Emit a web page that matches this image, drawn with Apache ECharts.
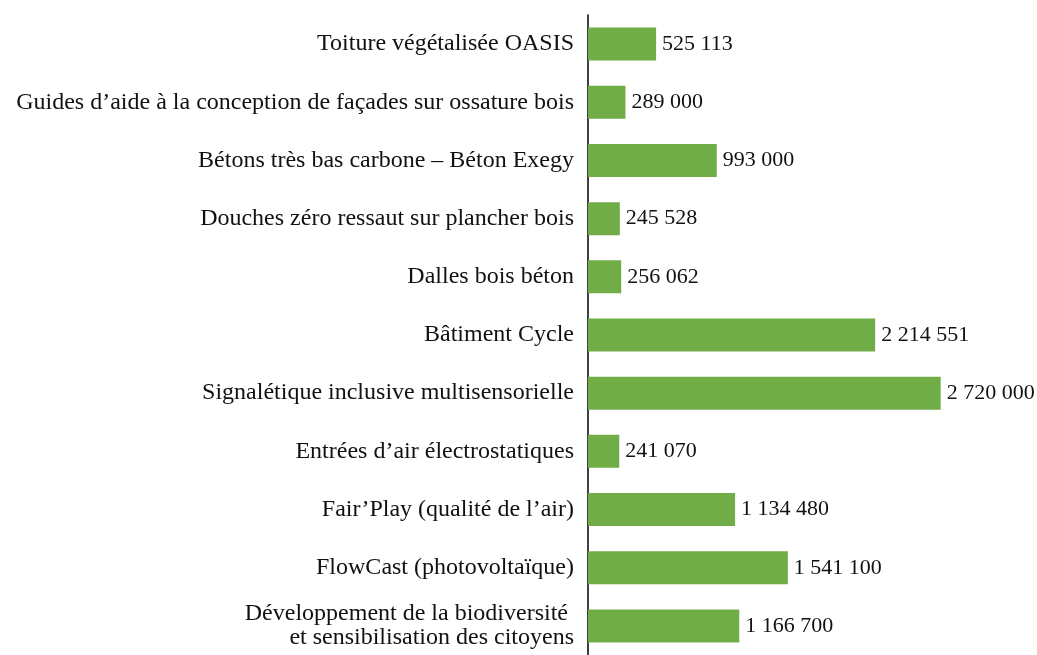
<!DOCTYPE html>
<html>
<head>
<meta charset="utf-8">
<script src="https://cdn.jsdelivr.net/npm/echarts@6/dist/echarts.min.js"></script>
<style>
  html, body { margin: 0; padding: 0; background: #fff; }
  #chart { width: 1037px; height: 655px; }
</style>
</head>
<body>
<div id="chart"></div>
<script>
const categories = [
  'Toiture végétalisée OASIS',
  'Guides d’aide à la conception de façades sur ossature bois',
  'Bétons très bas carbone – Béton Exegy',
  'Douches zéro ressaut sur plancher bois',
  'Dalles bois béton',
  'Bâtiment Cycle',
  'Signalétique inclusive multisensorielle',
  'Entrées d’air électrostatiques',
  'Fair’Play (qualité de l’air)',
  'FlowCast (photovoltaïque)',
  'Développement de la biodiversité \net sensibilisation des citoyens'
]
const amounts = [525113, 289000, 993000, 245528, 256062, 2214551, 2720000, 241070, 1134480, 1541100, 1166700]

const fontFamily = '"Liberation Serif", serif'

function fmt(v) {
  return String(v).replace(/\B(?=(\d{3})+(?!\d))/g, ' ')
}

const chart = echarts.init(document.getElementById('chart'))
chart.setOption({
  animation: false,
  grid: {
    left: 588,
    top: 15,
    width: 389,
    height: 647
  },
  xAxis: {
    type: 'value',
    min: 0,
    max: 3000000,
    show: false
  },
  yAxis: {
    type: 'category',
    inverse: true,
    data: categories,
    axisLine: { lineStyle: { color: '#000', width: 1.5 } },
    axisTick: { show: false },
    axisLabel: {
      margin: 14,
      color: '#111',
      fontFamily: fontFamily,
      fontSize: 24,
      lineHeight: 24,
      align: 'right'
    }
  },
  series: [{
    type: 'bar',
    data: amounts,
    barWidth: 33,
    itemStyle: { color: '#70AD47' },
    label: {
      show: true,
      position: 'right',
      distance: 6,
      color: '#111',
      fontFamily: fontFamily,
      fontSize: 22,
      formatter: p => fmt(p.value)
    }
  }]
})
</script>
</body>
</html>
